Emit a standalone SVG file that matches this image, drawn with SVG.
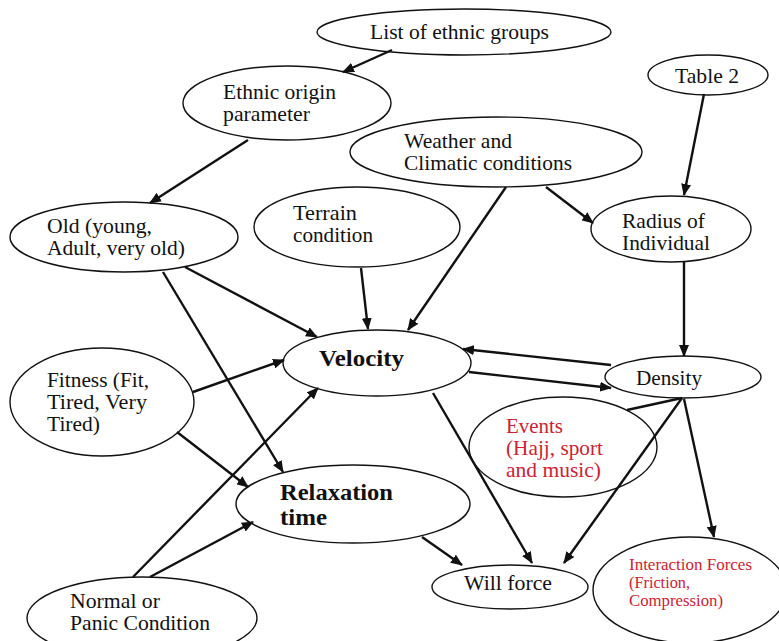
<svg xmlns="http://www.w3.org/2000/svg" width="779" height="641" viewBox="0 0 779 641">
<style>
.n{fill:none;stroke:#111;stroke-width:1.4}
.t{font-family:"Liberation Serif",Tinos,"Times New Roman","DejaVu Serif","Noto Serif",serif;font-size:21px;fill:#111}
.b{font-family:"Liberation Serif",Tinos,"Times New Roman","DejaVu Serif","Noto Serif",serif;font-size:24px;font-weight:bold;fill:#111}
.r{font-family:"Liberation Serif",Tinos,"Times New Roman","DejaVu Serif","Noto Serif",serif;font-size:21px;fill:#cc2233}
.rs{font-family:"Liberation Serif",Tinos,"Times New Roman","DejaVu Serif","Noto Serif",serif;font-size:16.5px;fill:#cc2233}
.e{stroke:#111;stroke-width:2.4;fill:none;marker-end:url(#ah)}
.p{stroke:#111;stroke-width:2.4;fill:none}
</style>
<defs>
<marker id="ah" markerUnits="userSpaceOnUse" markerWidth="12" markerHeight="10" refX="11" refY="5" orient="auto">
<path d="M0,0 L12,5 L0,10 z" fill="#111"/>
</marker>
</defs>
<rect width="779" height="641" fill="#fff"/>
<g id="n-list"><ellipse class="n" cx="464" cy="32" rx="147" ry="23"/><text class="t" x="370" y="39" textLength="179" lengthAdjust="spacingAndGlyphs">List of ethnic groups</text></g>
<g id="n-ethnic"><ellipse class="n" cx="287" cy="103" rx="104" ry="37"/><text class="t" x="223" y="99" textLength="113" lengthAdjust="spacingAndGlyphs">Ethnic origin</text><text class="t" x="223" y="121" textLength="87" lengthAdjust="spacingAndGlyphs">parameter</text></g>
<g id="n-table2"><ellipse class="n" cx="708" cy="75" rx="60" ry="20"/><text class="t" x="675" y="83" textLength="64" lengthAdjust="spacingAndGlyphs">Table 2</text></g>
<g id="n-weather"><ellipse class="n" cx="496" cy="152" rx="146" ry="35"/><text class="t" x="404" y="148" textLength="108" lengthAdjust="spacingAndGlyphs">Weather and</text><text class="t" x="404" y="170" textLength="168" lengthAdjust="spacingAndGlyphs">Climatic conditions</text></g>
<g id="n-old"><ellipse class="n" cx="124" cy="237" rx="114" ry="35"/><text class="t" x="47" y="233" textLength="105" lengthAdjust="spacingAndGlyphs">Old (young,</text><text class="t" x="47" y="255" textLength="138" lengthAdjust="spacingAndGlyphs">Adult, very old)</text></g>
<g id="n-terrain"><ellipse class="n" cx="357" cy="227" rx="103" ry="40"/><text class="t" x="293" y="220" textLength="64" lengthAdjust="spacingAndGlyphs">Terrain</text><text class="t" x="293" y="242" textLength="80" lengthAdjust="spacingAndGlyphs">condition</text></g>
<g id="n-radius"><ellipse class="n" cx="671" cy="229" rx="80" ry="33"/><text class="t" x="622" y="228" textLength="83" lengthAdjust="spacingAndGlyphs">Radius of</text><text class="t" x="622" y="250" textLength="88" lengthAdjust="spacingAndGlyphs">Individual</text></g>
<g id="n-velocity"><ellipse class="n" cx="377" cy="363" rx="94" ry="33"/><text class="b" x="319" y="366" textLength="85" lengthAdjust="spacingAndGlyphs">Velocity</text></g>
<g id="n-density"><ellipse class="n" cx="683" cy="377" rx="78" ry="21"/><text class="t" x="636" y="385" textLength="66" lengthAdjust="spacingAndGlyphs">Density</text></g>
<g id="n-fitness"><ellipse class="n" cx="102" cy="402" rx="92" ry="54"/><text class="t" x="47" y="387" textLength="102" lengthAdjust="spacingAndGlyphs">Fitness (Fit,</text><text class="t" x="47" y="409" textLength="100" lengthAdjust="spacingAndGlyphs">Tired, Very</text><text class="t" x="47" y="431" textLength="53" lengthAdjust="spacingAndGlyphs">Tired)</text></g>
<g id="n-events"><ellipse class="n" cx="563" cy="447" rx="94" ry="50"/><text class="r" x="506" y="433" textLength="57" lengthAdjust="spacingAndGlyphs">Events</text><text class="r" x="506" y="455" textLength="97" lengthAdjust="spacingAndGlyphs">(Hajj, sport</text><text class="r" x="506" y="477" textLength="95" lengthAdjust="spacingAndGlyphs">and music)</text></g>
<g id="n-relax"><ellipse class="n" cx="353" cy="504" rx="117" ry="39"/><text class="b" x="280" y="500" textLength="113" lengthAdjust="spacingAndGlyphs">Relaxation</text><text class="b" x="280" y="525" textLength="47" lengthAdjust="spacingAndGlyphs">time</text></g>
<g id="n-will"><ellipse class="n" cx="510" cy="587" rx="78" ry="22"/><text class="t" x="464" y="590" textLength="88" lengthAdjust="spacingAndGlyphs">Will force</text></g>
<g id="n-interaction"><ellipse class="n" cx="690" cy="590" rx="97" ry="53"/><text class="rs" x="629" y="570" textLength="123" lengthAdjust="spacingAndGlyphs">Interaction Forces</text><text class="rs" x="629" y="588" textLength="61" lengthAdjust="spacingAndGlyphs">(Friction,</text><text class="rs" x="629" y="606" textLength="94" lengthAdjust="spacingAndGlyphs">Compression)</text></g>
<g id="n-normal"><ellipse class="n" cx="142" cy="618" rx="115" ry="41"/><text class="t" x="70" y="608" textLength="90" lengthAdjust="spacingAndGlyphs">Normal or</text><text class="t" x="70" y="630" textLength="140" lengthAdjust="spacingAndGlyphs">Panic Condition</text></g>
<g id="connectors">
<line class="e" x1="392" y1="50" x2="343" y2="72"/>
<line class="e" x1="248" y1="140" x2="150" y2="203"/>
<line class="e" x1="704" y1="94" x2="684" y2="195"/>
<line class="e" x1="546" y1="187" x2="593" y2="223"/>
<line class="e" x1="506" y1="187" x2="408" y2="330"/>
<line class="e" x1="361" y1="268" x2="368" y2="329"/>
<line class="e" x1="185" y1="267" x2="317" y2="337"/>
<line class="e" x1="163" y1="272" x2="283" y2="472"/>
<line class="e" x1="193" y1="392" x2="284" y2="360"/>
<line class="e" x1="177" y1="432" x2="248" y2="487"/>
<line class="e" x1="133" y1="577" x2="318" y2="388"/>
<line class="e" x1="150" y1="577" x2="253" y2="522"/>
<line class="e" x1="611" y1="365" x2="463" y2="349"/>
<line class="e" x1="469" y1="372" x2="611" y2="388"/>
<line class="e" x1="433" y1="393" x2="532" y2="563"/>
<line class="p" x1="627" y1="410" x2="682" y2="398"/>
<line class="e" x1="682" y1="398" x2="564" y2="563"/>
<line class="e" x1="684" y1="399" x2="714" y2="537"/>
<line class="e" x1="422" y1="537" x2="462" y2="565"/>
<line class="e" x1="684" y1="262" x2="684" y2="356"/>
</g>
</svg>
